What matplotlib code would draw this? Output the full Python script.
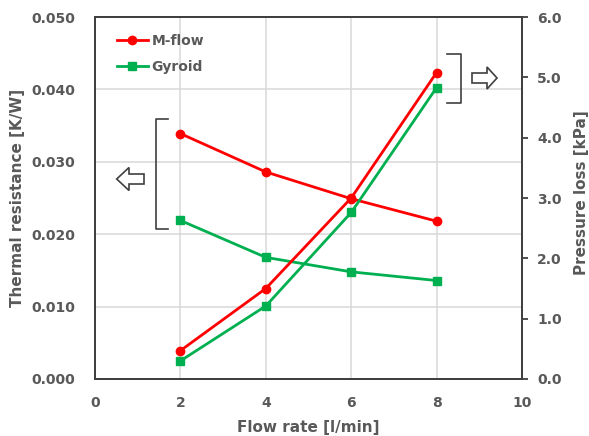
import matplotlib
matplotlib.use("Agg")
import matplotlib.pyplot as plt
from matplotlib.patches import Polygon
from matplotlib.lines import Line2D

flow = [2, 4, 6, 8]
mflow_thermal = [0.0339, 0.0286, 0.0249, 0.0218]
gyroid_thermal = [0.0219, 0.0168, 0.0148, 0.0136]
mflow_pressure = [0.47, 1.50, 3.00, 5.08]
gyroid_pressure = [0.30, 1.21, 2.76, 4.83]
series_names = ["M-flow", "Gyroid"]
x_ticks = [0, 2, 4, 6, 8, 10]
left_ticks = [0.0, 0.01, 0.02, 0.03, 0.04, 0.05]
right_ticks = [0.0, 1.0, 2.0, 3.0, 4.0, 5.0, 6.0]

RED = "#FF0000"
GREEN = "#00B050"
GRAY = "#595959"
SPINE = "#404040"

plt.rcParams['font.family'] = ['DejaVu Sans']
plt.rcParams['font.weight'] = 'bold'

W, H = 589, 436
fig = plt.figure(figsize=(W / 100, H / 100), dpi=100)
ax = fig.add_axes([95 / W, 1 - 379 / H, (522 - 95) / W, (379 - 17) / H])
ax2 = ax.twinx()

ax.set_xlim(0, 10)
ax.set_ylim(0, 0.05)
ax2.set_ylim(0, 6)
ax.set_xticks(x_ticks)
ax.set_yticks(left_ticks)
ax2.set_yticks(right_ticks)
ax.set_xticklabels([str(v) for v in x_ticks])
ax.set_yticklabels([f"{v:.3f}" for v in left_ticks])
ax2.set_yticklabels([f"{v:.1f}" for v in right_ticks])

ax.grid(True, color="#D9D9D9", linewidth=1.1)
ax.set_axisbelow(True)

ax.tick_params(axis='both', length=0, labelsize=10, labelcolor=GRAY)
ax.tick_params(axis='y', pad=14)
ax.tick_params(axis='x', pad=12)
ax2.tick_params(axis='y', length=4, width=1.3, color=SPINE, direction='out',
                labelsize=10, labelcolor=GRAY, pad=7)

for a in (ax, ax2):
    for s in a.spines.values():
        s.set_color(SPINE)
        s.set_linewidth(1.4)

ax.set_xlabel("Flow rate [l/min]", fontsize=11, color=GRAY, fontweight='bold', labelpad=7.5)
ax.set_ylabel("Thermal resistance [K/W]", fontsize=11, color=GRAY, fontweight='bold', labelpad=4.5)
ax2.set_ylabel("Pressure loss [kPa]", fontsize=11, color=GRAY, fontweight='bold', labelpad=8.5)
ax2.yaxis.label.set_y(0.514)

ax.plot(flow, mflow_thermal, color=RED, marker='o', linewidth=2.0, markersize=6)
ax.plot(flow, gyroid_thermal, color=GREEN, marker='s', markersize=5.5, linewidth=2.0)
ax2.plot(flow, mflow_pressure, color=RED, marker='o', linewidth=2.0, markersize=6)
ax2.plot(flow, gyroid_pressure, color=GREEN, marker='s', markersize=5.5, linewidth=2.0)

handles = [Line2D([], [], color=RED, marker='o', linewidth=2.0, markersize=6),
           Line2D([], [], color=GREEN, marker='s', linewidth=2.0, markersize=5.5)]
leg = ax2.legend(handles, series_names, loc='upper left', frameon=False,
                 bbox_to_anchor=((117 - 95) / 427, (379 - 34) / 362),
                 bbox_transform=ax.transAxes,
                 handlelength=2.2, handletextpad=0.3, labelspacing=0.85,
                 borderaxespad=0, borderpad=0,
                 prop={'size': 10, 'weight': 'bold'})
for t in leg.get_texts():
    t.set_color(GRAY)


def px(x, y):
    return (x / W, 1 - y / H)


def bracket(xv, xt, y0, y1):
    pts = [px(xt, y0), px(xv, y0), px(xv, y1), px(xt, y1)]
    fig.add_artist(Line2D([p[0] for p in pts], [p[1] for p in pts],
                          transform=fig.transFigure, color=SPINE, linewidth=1.2))


def arrow(tip_x, base_x, tail_x, cy, hh, sh):
    pts = [px(tip_x, cy), px(base_x, cy - hh), px(base_x, cy - sh), px(tail_x, cy - sh),
           px(tail_x, cy + sh), px(base_x, cy + sh), px(base_x, cy + hh)]
    fig.add_artist(Polygon(pts, closed=True, transform=fig.transFigure,
                           facecolor='white', edgecolor=SPINE, linewidth=1.2))


bracket(155.5, 167.5, 119, 228.5)
bracket(461, 447, 54, 103)
arrow(116.7, 129, 144, 179, 11.5, 5)
arrow(497, 487, 472, 78, 11, 5)

fig.savefig("out.png", dpi=100, facecolor='white')
